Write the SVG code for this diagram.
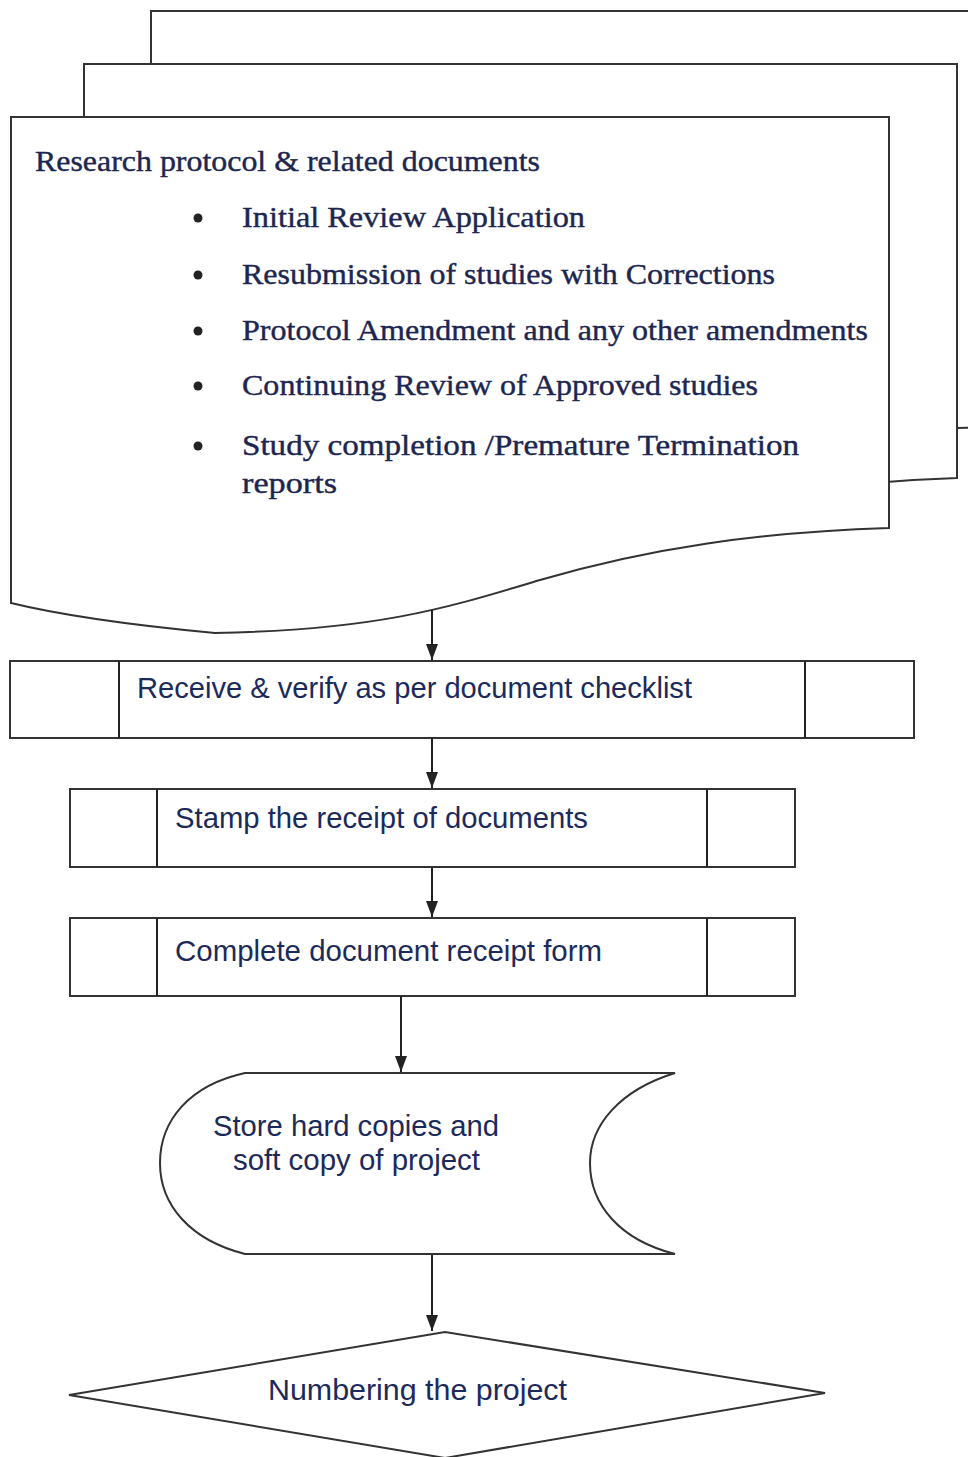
<svg xmlns="http://www.w3.org/2000/svg" width="968" height="1457" viewBox="0 0 968 1457">
<defs>
<marker id="arr" markerWidth="16" markerHeight="12" refX="16" refY="6" orient="auto" markerUnits="userSpaceOnUse" viewBox="0 0 16 12">
<path d="M0,0 L16,6 L0,12 Z" fill="#222"/>
</marker>
<style>
.sh{fill:#fff;stroke:#333;stroke-width:2;}
.ln{fill:none;stroke:#222;stroke-width:2;}
.serif{font-family:"Liberation Serif","Times New Roman",serif;font-size:30px;fill:#1c2650;stroke:#1c2650;stroke-width:0.4;}
.sans{font-family:"Liberation Sans",Arial,sans-serif;font-size:29px;fill:#1c2a5a;}
.dot{fill:#222;}
</style>
</defs>
<rect width="968" height="1457" fill="#fff"/>
<g id="page3">
<path class="sh" d="M151,64 L151,11 L1040,11 L1040,427 L957,428 L700,470 L151,540 Z"/>
</g>
<g id="page2">
<path class="sh" d="M84,117 L84,64 L957,64 L957,478 C830,482 720,500 600,530 L84,560 Z"/>
</g>
<g id="documents">
<path class="sh" d="M11,117 L889,117 L889,528 C760,532 650,548 540,580 C450,607 380,630 215,633 C130,625 60,615 11,603 Z"/>
<text class="serif" x="35" y="171" textLength="505" lengthAdjust="spacingAndGlyphs">Research protocol &amp; related documents</text>
<circle class="dot" cx="198" cy="218" r="4.5"/>
<text class="serif" x="242" y="227" textLength="343" lengthAdjust="spacingAndGlyphs">Initial Review Application</text>
<circle class="dot" cx="198" cy="275" r="4.5"/>
<text class="serif" x="242" y="284" textLength="533" lengthAdjust="spacingAndGlyphs">Resubmission of studies with Corrections</text>
<circle class="dot" cx="198" cy="331" r="4.5"/>
<text class="serif" x="242" y="340" textLength="626" lengthAdjust="spacingAndGlyphs">Protocol Amendment and any other amendments</text>
<circle class="dot" cx="198" cy="386" r="4.5"/>
<text class="serif" x="242" y="395" textLength="516" lengthAdjust="spacingAndGlyphs">Continuing Review of Approved studies</text>
<circle class="dot" cx="198" cy="446" r="4.5"/>
<text class="serif" x="242" y="455" textLength="557" lengthAdjust="spacingAndGlyphs">Study completion /Premature Termination</text>
<text class="serif" x="242" y="493" textLength="95" lengthAdjust="spacingAndGlyphs">reports</text>
</g>
<g id="receive">
<rect class="sh" x="10" y="661" width="904" height="77"/>
<line class="ln" x1="119" y1="661" x2="119" y2="738"/>
<line class="ln" x1="805" y1="661" x2="805" y2="738"/>
<text class="sans" x="137" y="698" textLength="555" lengthAdjust="spacingAndGlyphs">Receive &amp; verify as per document checklist</text>
</g>
<g id="stamp">
<rect class="sh" x="70" y="789" width="725" height="78"/>
<line class="ln" x1="157" y1="789" x2="157" y2="867"/>
<line class="ln" x1="707" y1="789" x2="707" y2="867"/>
<text class="sans" x="175" y="828" textLength="413" lengthAdjust="spacingAndGlyphs">Stamp the receipt of documents</text>
</g>
<g id="complete">
<rect class="sh" x="70" y="918" width="725" height="78"/>
<line class="ln" x1="157" y1="918" x2="157" y2="996"/>
<line class="ln" x1="707" y1="918" x2="707" y2="996"/>
<text class="sans" x="175" y="961" textLength="427" lengthAdjust="spacingAndGlyphs">Complete document receipt form</text>
</g>
<g id="store">
<path class="sh" d="M245,1073 L675,1073 C620,1090 590,1125 590,1163 C590,1205 620,1240 675,1254 L245,1254 C190,1240 160,1205 160,1163 C160,1120 190,1085 245,1073 Z"/>
<text class="sans" x="213" y="1136" textLength="286" lengthAdjust="spacingAndGlyphs">Store hard copies and</text>
<text class="sans" x="233" y="1170" textLength="247" lengthAdjust="spacingAndGlyphs">soft copy of project</text>
</g>
<g id="numbering">
<path class="sh" d="M69,1395 L445,1332 L825,1393 L445,1458 Z"/>
<text class="sans" x="268" y="1400" textLength="299" lengthAdjust="spacingAndGlyphs">Numbering the project</text>
</g>
<g id="connectors">
<line class="ln" x1="432" y1="610" x2="432" y2="660" marker-end="url(#arr)"/>
<line class="ln" x1="432" y1="738" x2="432" y2="788" marker-end="url(#arr)"/>
<line class="ln" x1="432" y1="867" x2="432" y2="917" marker-end="url(#arr)"/>
<line class="ln" x1="401" y1="996" x2="401" y2="1072" marker-end="url(#arr)"/>
<line class="ln" x1="432" y1="1255" x2="432" y2="1331" marker-end="url(#arr)"/>
</g>
</svg>
